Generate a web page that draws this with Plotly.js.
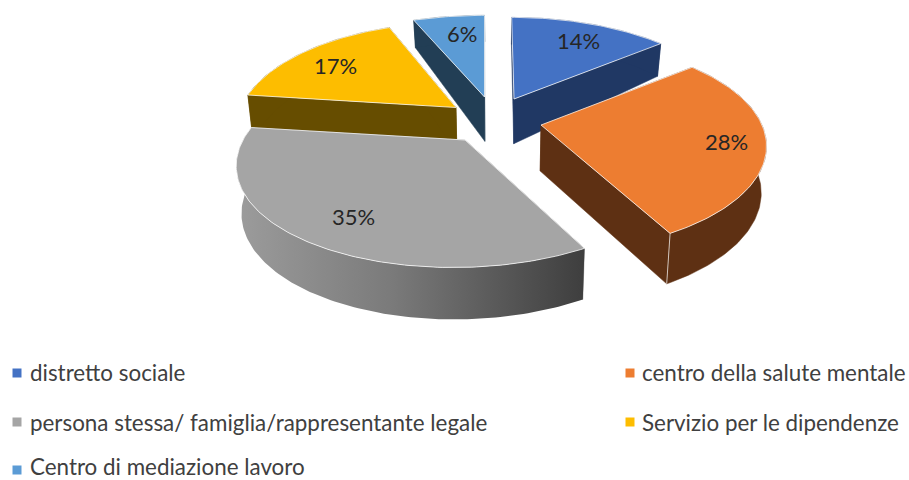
<!DOCTYPE html>
<html><head><meta charset="utf-8">
<script src="https://cdn.plot.ly/plotly-3.0.1.min.js"></script>
<style>html,body{margin:0;padding:0;background:#fff}#c{width:909px;height:480px}</style>
</head><body><div id="c"></div>
<script>
const categories = ['distretto sociale','centro della salute mentale','persona stessa/ famiglia/rappresentante legale','Servizio per le dipendenze','Centro di mediazione lavoro'];
const shares = [14,28,35,17,6];
const topColors = ['#4472c4','#ed7d31','#a5a5a5','#fdbd00','#5b9bd5'];
const wallColors = ['#203864','#5e3013','#7f7f7f','#664d00','#223e55'];
const labelFont = 'Lato, Carlito, "Open Sans", sans-serif';

// Exploded-slice geometry on a pixel-sized axis
const apexX = [514,541,465,456,484.5];
const apexY = [99,125,140,107.5,97];
const radX  = [217,221,222,215,228];
const radY  = [98,102,102,102,98];
const skew  = [14,0,-48,0,0];
const depth = 5;
const labelX = [578,726,353,335,462];
const labelY = [40,141,216,65,33];
const drawOrder = [4,0,3,1,2];
const legendX = [17,630,17,630,17];
const legendTextX = [30,642,30,642,30];
const legendY = [373,373,422,422,470];
const legendTextY = [372,372,422,422,466];

function wallH(y){ return y<100 ? 33+(y-45)*12/55 : 45+(y-100)*7/170; }
function topPt(i,deg){
  const a=deg*Math.PI/180,u=Math.sin(a),v=-Math.cos(a),s=depth/(depth-v);
  return [apexX[i]+(radX[i]*u+skew[i])*s-skew[i], apexY[i]+radY[i]*v*s];
}
function botPt(p){ return [500+(p[0]-500)*0.98, p[1]+wallH(p[1])]; }
function arc(i,a,b){ const r=[]; const n=Math.ceil(Math.abs(b-a)); for(let k=0;k<=n;k++) r.push(topPt(i,a+(b-a)*k/n)); return r; }
function poly(pts,fill,line,extra){
  const t={type:'scatter',mode:'lines',x:pts.map(p=>p[0]),y:pts.map(p=>p[1]),fill:'toself',fillcolor:fill,
    line:line||{color:fill,width:0.5},hoverinfo:'skip',showlegend:false};
  return Object.assign(t,extra||{});
}
const angles=[0]; shares.forEach(s=>angles.push(angles[angles.length-1]+s*3.6));
const traces=[];
drawOrder.forEach(i=>{
  const a=angles[i],b=angles[i+1],ap=[apexX[i],apexY[i]];
  const rim=arc(i,a,b);
  const apBot=botPt(ap);
  const grad=i===2?{fillgradient:{type:'horizontal',colorscale:[[0,'#9c9c9c'],[0.45,'#7a7a7a'],[1,'#3e3e3e']]},line:{color:'rgba(0,0,0,0)',width:0}}:null;
  const st=rim[0],en=rim[rim.length-1];
  traces.push(poly([ap,st,botPt(st),apBot,ap],wallColors[i]));
  traces.push(poly([ap,en,botPt(en),apBot,ap],wallColors[i]));
  traces.push(poly(rim.concat(rim.map(botPt).reverse()).concat([rim[0]]),wallColors[i],null,grad));
  if(i===1) traces.push({type:'scatter',mode:'lines',x:[en[0],botPt(en)[0]],y:[en[1],botPt(en)[1]],line:{color:'rgba(255,255,255,0.7)',width:1},hoverinfo:'skip',showlegend:false});
  traces.push(poly([ap].concat(rim).concat([ap]),topColors[i],{color:'rgba(255,255,255,0.75)',width:1}));
});
traces.push({type:'scatter',mode:'markers',x:legendX,y:legendY,marker:{symbol:'square',size:9,color:topColors},hoverinfo:'skip',showlegend:false});

const annotations=[];
shares.forEach((s,i)=>annotations.push({x:labelX[i],y:labelY[i],text:s+'%',showarrow:false,xanchor:'center',yanchor:'middle',font:{family:labelFont,size:22,color:'#262626'}}));
categories.forEach((c,i)=>annotations.push({x:legendTextX[i],y:legendTextY[i],text:c,showarrow:false,xanchor:'left',yanchor:'middle',xshift:-2,font:{family:labelFont,size:22.4,color:'#404040'}}));

Plotly.newPlot('c',traces,{
  width:909,height:480,margin:{l:0,r:0,t:0,b:0},paper_bgcolor:'#fff',plot_bgcolor:'#fff',showlegend:false,
  xaxis:{range:[0,909],visible:false,fixedrange:true},
  yaxis:{range:[480,0],visible:false,fixedrange:true},
  annotations:annotations
},{staticPlot:true,displayModeBar:false});
</script></body></html>
